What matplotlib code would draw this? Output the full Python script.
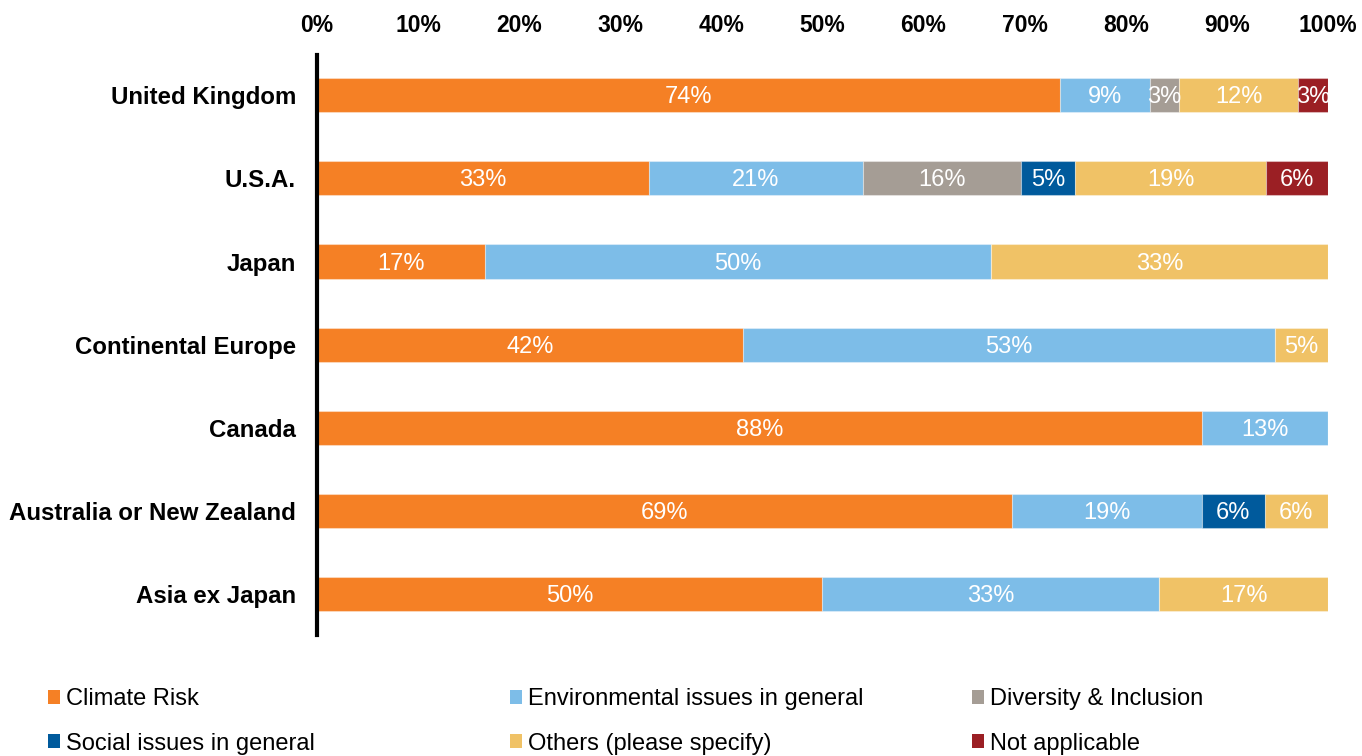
import matplotlib.pyplot as plt
from matplotlib.patches import Patch

regions = [
    "United Kingdom",
    "U.S.A.",
    "Japan",
    "Continental Europe",
    "Canada",
    "Australia or New Zealand",
    "Asia ex Japan",
]

series_names = [
    "Climate Risk",
    "Environmental issues in general",
    "Diversity & Inclusion",
    "Social issues in general",
    "Others (please specify)",
    "Not applicable",
]

climate_risk = [73.53, 32.8, 16.67, 42.11, 87.5, 68.75, 50.0]
environmental = [8.82, 21.2, 50.0, 52.63, 12.5, 18.75, 33.33]
diversity = [2.94, 15.6, 0, 0, 0, 0, 0]
social = [0, 5.4, 0, 0, 0, 6.25, 0]
others = [11.76, 18.9, 33.33, 5.26, 0, 6.25, 16.67]
not_applicable = [2.94, 6.1, 0, 0, 0, 0, 0]

tick_values = [0, 10, 20, 30, 40, 50, 60, 70, 80, 90, 100]

colors = ["#F58025", "#7DBDE8", "#A59D95", "#005A9C", "#F0C266", "#9B1F24"]

plt.rcParams["font.family"] = ["Liberation Sans", "DejaVu Sans"]


def pct_label(v):
    # round half up, as spreadsheet labels do
    return f"{int(v + 0.5)}%"


def main():
    fig = plt.figure(figsize=(13.62, 7.56), dpi=100)
    ax = fig.add_axes([0.2327, 0.16, 0.7423, 0.767])

    all_series = [climate_risk, environmental, diversity, social, others, not_applicable]
    ypos = list(range(len(regions)))
    left = [0.0] * len(regions)
    for name, vals, col in zip(series_names, all_series, colors):
        ax.barh(ypos, vals, left=left, height=0.41, color=col,
                edgecolor=(1, 1, 1, 0.35), linewidth=0.8, label=name)
        for y, v, l in zip(ypos, vals, left):
            if v > 0:
                ax.text(l + v / 2, y + 0.025, pct_label(v), ha="center", va="center",
                        color="white", fontsize=17)
        left = [a + b for a, b in zip(left, vals)]

    ax.set_xlim(0, 100)
    ax.set_ylim(6.49, -0.48)
    ax.xaxis.tick_top()
    ax.set_xticks(tick_values)
    ax.set_xticklabels([f"{t}%" for t in tick_values], fontsize=16.5, fontweight="bold")
    ax.set_yticks(ypos)
    ax.set_yticklabels(regions, fontsize=17.3, fontweight="bold")
    ax.tick_params(axis="both", length=0)
    ax.tick_params(axis="x", pad=13)
    ax.tick_params(axis="y", pad=15)
    for side in ["top", "right", "bottom"]:
        ax.spines[side].set_visible(False)
    ax.spines["left"].set_linewidth(3)
    ax.spines["left"].set_zorder(5)

    # legend laid out in three fixed columns, filled row by row
    col_x = [48, 510, 972]
    for i, x in enumerate(col_x):
        idx = [i, i + 3]
        handles = [Patch(facecolor=colors[k], edgecolor="none") for k in idx]
        labels = [series_names[k] for k in idx]
        fig.legend(handles, labels, loc="center left",
                   bbox_to_anchor=(x / 1362, 1 - 721.5 / 756),
                   frameon=False, prop={"size": 17}, borderpad=0, borderaxespad=0,
                   handlelength=0.52, handleheight=0.52, handletextpad=0.25,
                   labelspacing=0.95)

    fig.savefig("out.png", dpi=100)
    plt.close(fig)


if __name__ == "__main__":
    main()
